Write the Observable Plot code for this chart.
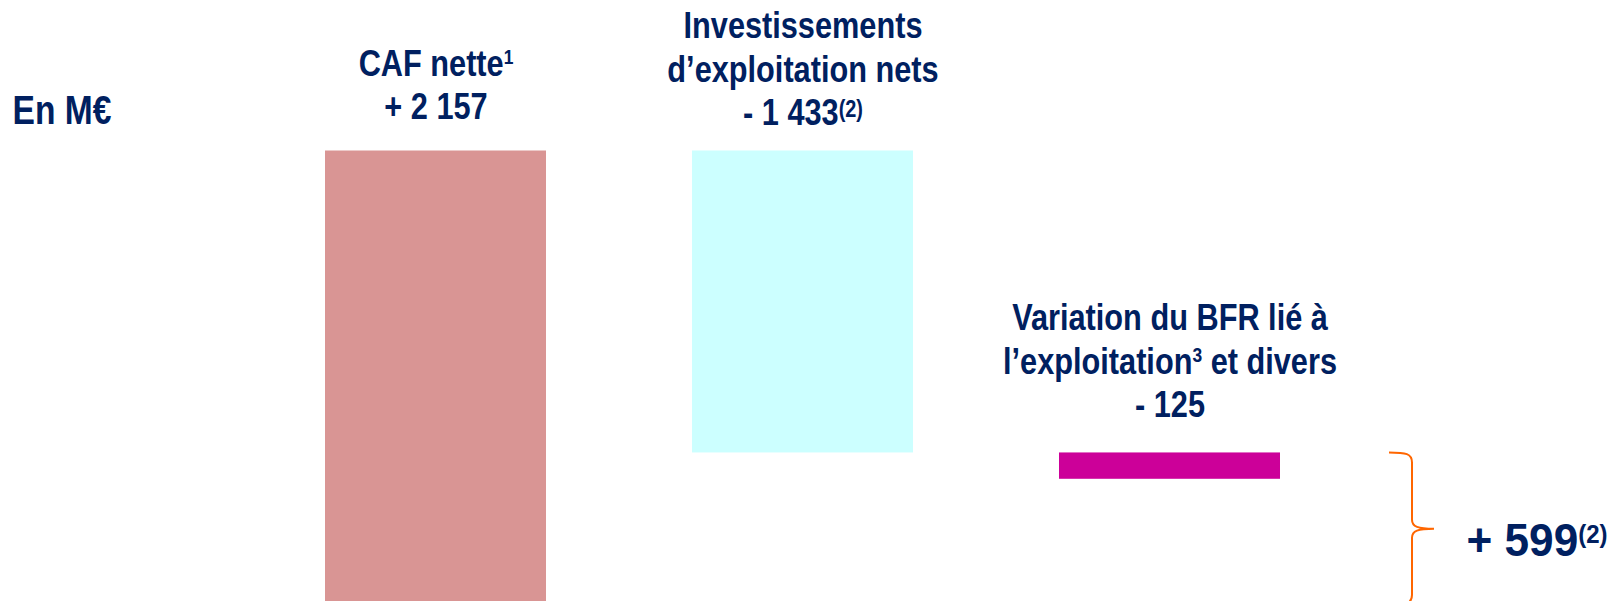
<!DOCTYPE html>
<html><head><meta charset="utf-8">
<script src="https://cdn.jsdelivr.net/npm/d3@7"></script>
<script src="https://cdn.jsdelivr.net/npm/@observablehq/plot@0.6"></script>
<style>
html,body{margin:0;padding:0;background:#fff;overflow:hidden;}
</style></head><body><div id="chart"></div>
<script>
// ---- data ----
const categories = ["CAF nette", "Investissements", "Variation du BFR", "Total"];
const values = [2157, -1433, -125];
const total = 599;
const titles = ["CAF nette^{1}", "Investissements\nd’exploitation nets", "Variation du BFR lié à\nl’exploitation^{3} et divers"];
const valueNotes = ["", "^{(2)}", ""];
const totalNote = "^{(2)}";
const unitLabel = "En M€";
const colors = ["#d99594", "#ccffff", "#cc0099"];

// ---- styles ----
const navy = "#002060";
const font = "'Liberation Sans Narrow', 'Arial Narrow', 'Liberation Sans', Arial, sans-serif";
const labelDy = [-32, -26, -36];
const labelSize = 37, totalSize = 46, unitSize = 40;
// per font size: horizontal condensing, superscript [size, shift] for digits and for parenthesised notes
const groupStyle = {
  [labelSize]: {k: 0.83, digit: [21, 12], paren: [24, 8]},
  [totalSize]: {k: 0.96, digit: [25, 13], paren: [25, 13]},
  [unitSize]:  {k: 0.84, digit: [21, 12], paren: [24, 8]}
};

const fmt = d3.formatLocale({thousands: " ", grouping: [3], decimal: ","}).format(",d");
const signed = v => (v >= 0 ? "+ " : "- ") + fmt(Math.abs(v));

let acc = 0;
const steps = values.map((v, i) => {
  const start = acc; acc += v;
  return {cat: categories[i], y1: start, y2: acc, top: Math.max(start, acc),
          label: titles[i] + "\n" + signed(v) + valueNotes[i], color: colors[i]};
});
const totalRow = {cat: categories[3], y1: 0, y2: acc, mid: steps[2].top / 2, label: signed(total) + totalNote};

const brace = (index, scales) => {
  const x0 = scales.x(totalRow.cat) - 14;
  const yt = scales.y(steps[2].top), yb = scales.y(0), ym = (yt + yb) / 2;
  const d = `M${x0-23},${yt} C${x0-6},${yt} ${x0},${yt+1} ${x0},${yt+10} L${x0},${ym-9} C${x0},${ym-2} ${x0+6},${ym} ${x0+22},${ym} C${x0+6},${ym} ${x0},${ym+2} ${x0},${ym+9} L${x0},${yb-10} C${x0},${yb-1} ${x0-6},${yb} ${x0-23},${yb}`;
  const p = document.createElementNS("http://www.w3.org/2000/svg", "path");
  p.setAttribute("d", d);
  p.setAttribute("fill", "none");
  p.setAttribute("stroke", "#ff6600");
  p.setAttribute("stroke-width", 2);
  return p;
};

const chart = Plot.plot({
  width: 1616,
  height: 601,
  margin: 0,
  x: {type: "band", domain: categories, range: [251.5, 1719.5], paddingInner: 0.398, paddingOuter: 0.199, axis: null},
  y: {domain: [0, 2157], range: [605, 150.5], axis: null},
  marks: [
    Plot.barY(steps, {x: "cat", y1: "y1", y2: "y2", fill: "color"}),
    ...steps.map((d, i) => Plot.text([d], {
      x: "cat", y: "top", text: "label", lineAnchor: "bottom", dy: labelDy[i],
      fontSize: labelSize, lineHeight: 1.17, fontWeight: "bold", fontFamily: font, fill: navy
    })),
    brace,
    Plot.text([totalRow], {x: "cat", y: "mid", text: "label", dy: 12,
      fontSize: totalSize, fontWeight: "bold", fontFamily: font, fill: navy}),
    Plot.text([unitLabel], {frameAnchor: "top-left", dx: 12, dy: 123, lineAnchor: "bottom", textAnchor: "start",
      fontSize: unitSize, fontWeight: "bold", fontFamily: font, fill: navy})
  ]
});
document.getElementById("chart").appendChild(chart);

// condense text horizontally and build superscripts
const svgNS = "http://www.w3.org/2000/svg";
for (const t of chart.querySelectorAll("text")) {
  const holder = t.closest("[font-size]");
  const st = holder && groupStyle[+holder.getAttribute("font-size")];
  if (!st) continue;
  t.setAttribute("transform", (t.getAttribute("transform") || "") + ` scale(${st.k},1)`);
  const walker = document.createTreeWalker(t, NodeFilter.SHOW_TEXT);
  const nodes = [];
  while (walker.nextNode()) nodes.push(walker.currentNode);
  for (const node of nodes) {
    const s = node.nodeValue;
    if (!s.includes("^{")) continue;
    const parts = s.split(/\^\{([^}]*)\}/);
    const frag = document.createDocumentFragment();
    parts.forEach((p, i) => {
      if (!p) return;
      if (i % 2 === 0) frag.appendChild(document.createTextNode(p));
      else {
        const [sz, shift] = p.startsWith("(") ? st.paren : st.digit;
        const ts = document.createElementNS(svgNS, "tspan");
        ts.setAttribute("font-size", sz);
        ts.setAttribute("baseline-shift", shift);
        ts.textContent = p;
        frag.appendChild(ts);
      }
    });
    node.parentNode.replaceChild(frag, node);
  }
}
</script></body></html>
